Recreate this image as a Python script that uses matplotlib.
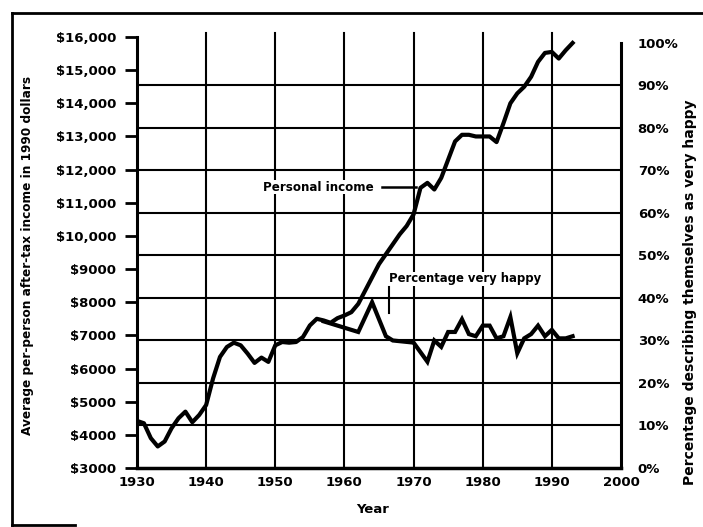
import matplotlib
matplotlib.use("Agg")
import matplotlib.pyplot as plt
from matplotlib.lines import Line2D

# ---- data ----
income_years = list(range(1930, 1994))
income_values = [4420, 4350, 3900, 3650, 3800, 4200, 4500, 4700, 4380, 4600,
                 4900, 5700, 6350, 6650, 6780, 6700, 6450, 6170, 6330, 6200,
                 6700, 6800, 6780, 6800, 6950, 7300, 7500, 7450, 7380, 7520,
                 7600, 7700, 7950, 8350, 8750, 9150, 9450, 9750, 10050, 10300,
                 10650, 11450, 11600, 11400, 11750, 12300, 12850, 13050, 13050, 13000,
                 13000, 13000, 12830, 13400, 14000, 14300, 14500, 14800, 15250, 15520,
                 15550, 15350, 15600, 15820]

happy_years = [1957, 1960, 1962, 1964, 1966, 1967, 1970, 1972, 1973, 1974,
               1975, 1976, 1977, 1978, 1979, 1980, 1981, 1982, 1983, 1984,
               1985, 1986, 1987, 1988, 1989, 1990, 1991, 1992, 1993]
happy_values = [34.5, 33, 32, 39, 31, 30, 29.5, 25, 30, 28.5,
                32, 32, 35, 31.5, 31, 33.5, 33.5, 30.5, 31, 35.5,
                27, 30.5, 31.5, 33.5, 31, 32.5, 30.5, 30.5, 31]

year_ticks = list(range(1930, 2001, 10))
income_ticks = list(range(3000, 16001, 1000))
income_labels = ["$%d" % v if v < 10000 else "${:,}".format(v) for v in income_ticks]
pct_ticks = list(range(0, 101, 10))
pct_labels = ["%d%%" % v for v in pct_ticks]

FONT = dict(family="DejaVu Sans", fontweight="bold")
TS = 9.5   # tick label size

W, H = 703, 527
fig = plt.figure(figsize=(W / 100, H / 100), dpi=100)
fig.patch.set_facecolor("white")

L, R, T, B = 137, 621, 37, 468
ax = fig.add_axes([L / W, 1 - B / H, (R - L) / W, (B - T) / H])
ax2 = ax.twinx()

ax.set_xlim(1930, 2000)
ax.set_ylim(3000, 16000)
ax2.set_ylim(0, 101.4)

# grid: horizontal at percentage levels, vertical at decades
for p in pct_ticks[1:-1]:
    ax2.axhline(p, color="black", lw=1.5, zorder=1)
for y in year_ticks[1:-1]:
    ax.axvline(y, color="black", lw=1.5, zorder=1, ymax=1.01, clip_on=False)

ax.plot(income_years, income_values, color="black", lw=3, solid_joinstyle="round", zorder=3)
ax2.plot(happy_years, happy_values, color="black", lw=3, solid_joinstyle="miter", zorder=3)

# spines
ax.spines["top"].set_visible(False)
ax2.spines["top"].set_visible(False)
ax2.spines["left"].set_visible(False)
ax2.spines["bottom"].set_visible(False)
ax.spines["right"].set_visible(False)
ax.spines["left"].set_linewidth(2.2)
ax.spines["bottom"].set_linewidth(2.5)
ax2.spines["right"].set_linewidth(2.2)
ax2.spines["right"].set_bounds(0, 100)

ax.set_xticks(year_ticks)
ax.set_xticklabels([str(y) for y in year_ticks], **FONT, fontsize=TS)
ax.tick_params(axis="x", length=0, pad=6)
ax.set_yticks(income_ticks)
ax.set_yticklabels(income_labels, **FONT, fontsize=TS)
ax.tick_params(axis="y", length=9, width=2, pad=6, direction="out")
ax2.set_yticks(pct_ticks)
ax2.set_yticklabels(pct_labels, **FONT, fontsize=TS)
ax2.tick_params(axis="y", length=0, pad=12)

ax.set_xlabel("Year", **FONT, fontsize=9.5)
ax.xaxis.set_label_coords((373 - L) / (R - L), -(503 - B) / (B - T))
ax.set_ylabel("Average per-person after-tax income in 1990 dollars", **FONT, fontsize=8.7)
ax.yaxis.set_label_coords((34 - L) / (R - L), (B - 255) / (B - T))
ax2.set_ylabel("Percentage describing themselves as very happy", **FONT, fontsize=10,
               rotation=90, va="center")
ax2.yaxis.set_label_coords((690 - L) / (R - L), (B - 292) / (B - T))

# annotations
ax.text(1948.2, 11470, "Personal income", **FONT, fontsize=8.6, va="center", ha="left", zorder=4,
        bbox=dict(facecolor="white", edgecolor="none", pad=0.5))
ax.plot([1965.4, 1970.4], [11470, 11470], color="black", lw=1.8, zorder=4)
ax2.text(1966.5, 44.5, "Percentage very happy", **FONT, fontsize=8.4, va="center", ha="left", zorder=4,
         bbox=dict(facecolor="white", edgecolor="none", pad=0.5))
ax2.plot([1966.5, 1966.5], [42.5, 36.5], color="black", lw=1.5, zorder=4)

# outer border (partial, as in the scan)
fig.add_artist(Line2D([12 / W, 1], [1 - 13 / H, 1 - 13 / H], color="black", lw=2))
fig.add_artist(Line2D([12 / W, 12 / W], [1 - 13 / H, 1 - 525 / H], color="black", lw=2))
fig.add_artist(Line2D([12 / W, 75 / W], [1 - 525 / H, 1 - 525 / H], color="black", lw=2))

fig.savefig("out.png", dpi=100)
